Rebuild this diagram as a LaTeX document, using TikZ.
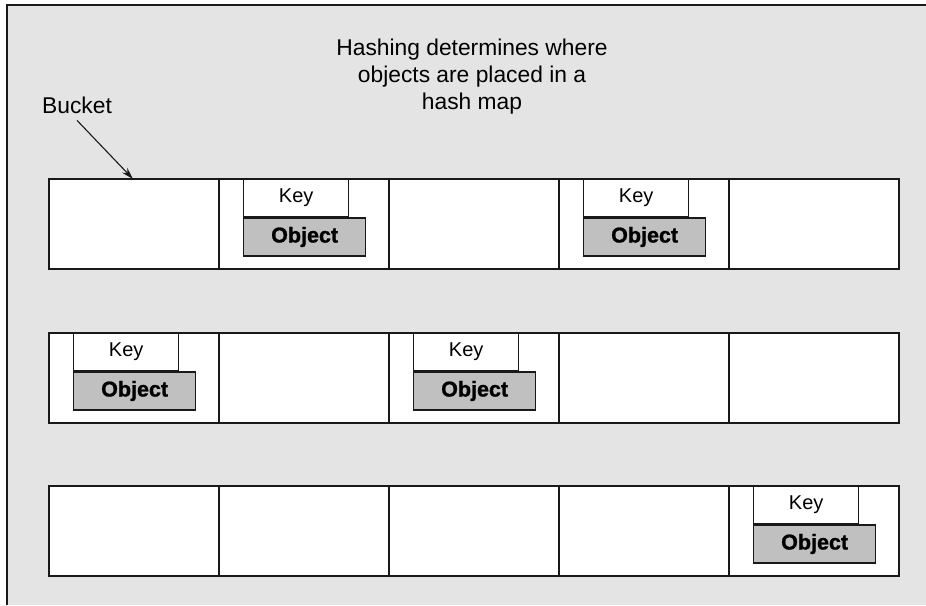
\documentclass[tikz,border=0pt]{standalone}
\usepackage{fontspec}
\setmainfont{Liberation Sans}
\newfontfamily\objfont[FakeBold=1.2]{Liberation Sans Bold}
\usetikzlibrary{arrows.meta,calc}
\definecolor{bggray}{RGB}{228,228,228}
\definecolor{objgray}{RGB}{192,192,192}
\definecolor{linec}{RGB}{25,25,25}
\begin{document}
\begin{tikzpicture}[x=1pt,y=-1pt,
  cell/.style={draw=linec, line width=1.3pt, fill=white, minimum width=170pt, minimum height=90pt, anchor=north west, inner sep=0pt, outer sep=0pt},
  keybox/.style={draw=linec, line width=1.3pt, fill=white, minimum width=105pt, minimum height=37pt, anchor=north west, inner sep=0pt, font=\fontsize{20}{20}\selectfont},
  objbox/.style={draw=linec, line width=1.3pt, fill=objgray, minimum width=122pt, minimum height=38pt, anchor=north west, inner sep=0pt, font=\objfont\fontsize{21.5}{21.5}\selectfont},
  lbl/.style={inner sep=0pt, font=\fontsize{22.8}{27}\selectfont},
]
\useasboundingbox (0,0) rectangle (926,605);
\fill[bggray] (7,5) rectangle (926,605);
\draw[linec, line width=1.5pt] (7,605) -- (7,5) -- (926,5);

% buckets
\foreach \r/\y in {1/179, 2/333, 3/486}{
  \foreach \i in {1,...,5}{
    \node[cell] (c\r\i) at ({49+170*(\i-1)}, \y) {};
  }
}

% key/object pairs
\foreach \n/\r/\i in {a/1/2, b/1/4, c/2/1, d/2/3, e/3/5}{
  \node[keybox] (k\n) at ($(c\r\i.north west)+(24,0)$) {Key};
  \node[objbox] (o\n) at (k\n.south west) {Object};
}

% title
\node[lbl, align=center] (title) at (472,77) {Hashing determines where\\objects are placed in a\\hash map};

% bucket label
\node[lbl, anchor=base west] (bucket) at (42,113) {Bucket};
\coordinate (bt) at (133,179);
\draw[linec, line width=1.1pt, -{Stealth[length=12pt,width=7pt]}] ($(bucket.south)+(0,7)$) -- (bt);
\end{tikzpicture}
\end{document}
